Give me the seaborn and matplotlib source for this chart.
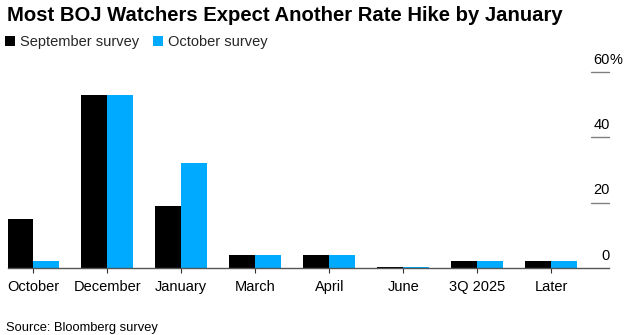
import matplotlib
matplotlib.use('Agg')
import matplotlib.pyplot as plt
import seaborn as sns
import pandas as pd

categories = ["October", "December", "January", "March", "April", "June", "3Q 2025", "Later"]
september = [15, 53, 19, 4, 4, 0.3, 2, 2]
october = [2, 53, 32, 4, 4, 0.3, 2, 2]
series_names = ["September survey", "October survey"]
yticks = [0, 20, 40, 60]
title = "Most BOJ Watchers Expect Another Rate Hike by January"
source = "Source: Bloomberg survey"
colors = ["#000000", "#00AAFF"]

sns.set_theme(style="white")
plt.rcParams['font.family'] = ['Liberation Sans', 'DejaVu Sans']

df = pd.DataFrame({
    "category": categories * 2,
    "value": september + october,
    "survey": [series_names[0]] * len(categories) + [series_names[1]] * len(categories),
})

W, H = 627, 335
fig = plt.figure(figsize=(W / 100, H / 100), dpi=100)
ax = fig.add_axes([8 / W, 67 / H, 601 / W, 196 / H])
sns.barplot(data=df, x="category", y="value", hue="survey", palette=colors,
            width=0.7, saturation=1, linewidth=0, ax=ax)
ax.set_xlim(-0.342, 7.78)
ax.set_ylim(0, 60)
ax.set_xlabel("")
ax.set_ylabel("")
for s in ["left", "right", "top"]:
    ax.spines[s].set_visible(False)
ax.spines["bottom"].set_color("#555555")
ax.spines["bottom"].set_linewidth(1)
ax.set_yticks([])
ax.tick_params(axis="x", length=3.6, width=0.8, color="#333333", labelsize=10.5,
               pad=5, labelcolor="#000000", bottom=True)

for v in yticks:
    if v > 0:
        ax.axhline(v, xmin=0.9695, xmax=1.0, color="#808080", lw=1, clip_on=False)
    ax.annotate(str(v), xy=(1.0, v), xycoords=ax.get_yaxis_transform(),
                xytext=(0.5, 6), textcoords="offset points", ha="right",
                va="baseline", fontsize=10.5, color="#000000", annotation_clip=False)
    if v == yticks[-1]:
        ax.annotate("%", xy=(1.0, v), xycoords=ax.get_yaxis_transform(),
                    xytext=(0.3, 6), textcoords="offset points", ha="left",
                    va="baseline", fontsize=10.5, color="#000000", annotation_clip=False)

sns.move_legend(ax, loc="center left", bbox_to_anchor=(5 / W, (H - 42) / H),
                bbox_transform=fig.transFigure, ncol=2, frameon=False, title=None,
                handlelength=0.7, handleheight=0.7, handletextpad=0.35,
                columnspacing=0.9, fontsize=10.5, borderaxespad=0, borderpad=0)

fig.text(7 / W, (H - 20.7) / H, title, fontsize=14.6, fontweight="bold",
         ha="left", va="baseline", color="#000000")
fig.text(6 / W, (H - 330.7) / H, source, fontsize=9.3, ha="left",
         va="baseline", color="#000000")

fig.savefig("out.png", dpi=100)
